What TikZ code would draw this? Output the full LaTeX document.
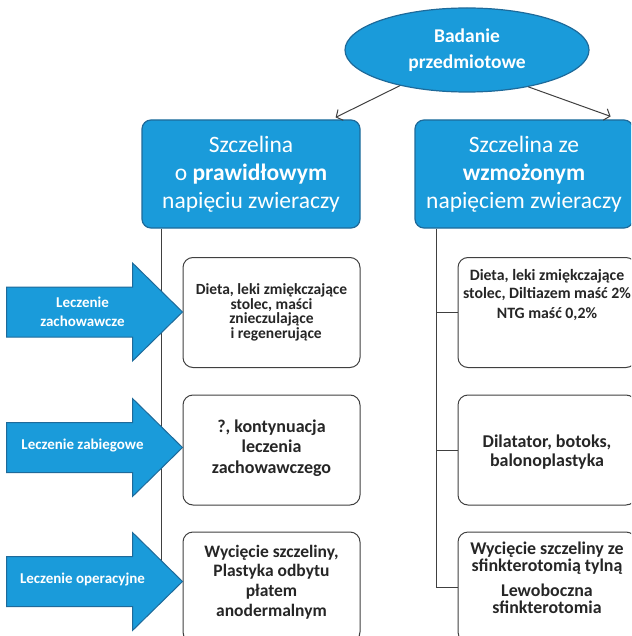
\documentclass[tikz,border=0pt]{standalone}
\usepackage{fontspec}
\setmainfont{Carlito}
\usetikzlibrary{shapes.geometric,arrows.meta,calc}
\definecolor{fillblue}{HTML}{1A9BDA}
\definecolor{edgeblue}{HTML}{1E6A9A}
\definecolor{linegray}{HTML}{404040}
\definecolor{textdark}{HTML}{262626}

\begin{document}
\begin{tikzpicture}[x=1pt,y=-1pt,
  bluebox/.style={draw=edgeblue, line width=1.2pt, fill=fillblue, rounded corners=9pt,
    text=white, align=center, inner sep=0pt, minimum width=218pt, minimum height=108pt,
    font=\fontsize{23.5}{28}\selectfont},
  wbox/.style={draw=linegray, line width=1pt, fill=white, rounded corners=10pt,
    inner sep=0pt, minimum width=177pt, minimum height=110pt},
  wtext/.style={text=textdark, align=center},
  conn/.style={draw=linegray, line width=1pt},
  arr/.style={conn, -{Straight Barb[length=5pt,width=12pt]}},
  lecz/.style={draw=edgeblue, line width=1pt, fill=fillblue},
  lecztext/.style={text=white, align=center, font=\bfseries\fontsize{15}{19}\selectfont},
]
\useasboundingbox (0,0) rectangle (631,636);
\clip (0,0) rectangle (631,636);

% top ellipse and the two headline boxes
\node[ellipse, draw=edgeblue, fill=fillblue, line width=1.2pt, minimum width=244pt,
  minimum height=84pt, inner sep=0pt, text=white, align=center,
  font=\bfseries\fontsize{19.5}{26}\selectfont] (E) at (467,50) {Badanie\\przedmiotowe};

\node[bluebox] (B1) at (251,174) {Szczelina\\o \textbf{prawidłowym}\\napięciu zwieraczy};
\node[bluebox] (B2) at (524,174) {Szczelina ze\\\textbf{wzmożonym}\\napięciem zwieraczy};

\draw[arr] (E.208) -- ($(B1.north east)+(-25,-2)$);
\draw[arr] (E.329) -- ($(B2.north east)+(-23,-3)$);

% treatment boxes, left column
\node[wbox] (L1) at (271.5,312.5) {};
\node[wtext, font=\bfseries\fontsize{15.5}{14.5}\selectfont] (L1t) at (L1)
  {Dieta, leki zmiękczające\\stolec, maści\\znieczulające\hspace*{0.5em}\\\hspace*{0.6em}i regenerujące};
\node[wbox] (L2) at (271.5,450) {};
\node[wtext, font=\bfseries\fontsize{18}{20.5}\selectfont] (L2t) at (271.5,448)
  {?, kontynuacja\\leczenia\\zachowawczego};
\node[wbox] (L3) at (271.5,587) {};
\node[wtext, font=\bfseries\fontsize{17.5}{19.7}\selectfont] (L3t) at (271.5,582)
  {Wycięcie szczeliny,\\Plastyka odbytu\\płatem\\anodermalnym};

% treatment boxes, right column
\node[wbox, minimum width=178pt] (R1) at (547,312.5) {};
\node[wtext, font=\bfseries\fontsize{15.8}{18}\selectfont] (R1t) at (547,295)
  {Dieta, leki zmiękczające\\stolec, Diltiazem maść 2\%\\[2pt]NTG maść 0,2\%};
\node[wbox, minimum width=178pt] (R2) at (547,450) {};
\node[wtext, font=\bfseries\fontsize{18}{19.5}\selectfont] (R2t) at (547,452)
  {Dilatator, botoks,\\balonoplastyka};
\node[wbox, minimum width=178pt] (R3) at (547,587) {};
\node[wtext, font=\bfseries\fontsize{17.9}{17}\selectfont] (R3t) at (547,578)
  {Wycięcie szczeliny ze\\sfinkterotomią tylną\\[8pt]Lewoboczna\\sfinkterotomia};

% arrow tips on the left boxes
\coordinate (tip1) at ($(L1.north west)+(0,55)$);
\coordinate (tip2) at ($(L2.north west)+(0,53)$);
\coordinate (tip3) at ($(L3.north west)+(0,50)$);

% trunk lines
\draw[conn] ($(B1.south west)+(20,0)$) |- (tip3);
\coordinate (trunk) at ($(B2.south west)+(22,0)$);
\draw[conn] (trunk) |- (R3.west);
\draw[conn] (trunk |- R1.west) -- (R1.west);
\draw[conn] (trunk |- R2.west) -- (R2.west);

% block arrows with their labels
\foreach \t in {tip1,tip2,tip3}
  \draw[lecz] (\t) -- ++(-50,-49) -- ++(0,24) -- ++(-126,0) -- ++(0,50)
    -- ++(126,0) -- ++(0,24) -- cycle;
\node[lecztext] (A1) at ($(tip1)+(-100,0)$) {Leczenie\\zachowawcze};
\node[lecztext] (A2) at ($(tip2)+(-100,-2)$) {Leczenie zabiegowe};
\node[lecztext] (A3) at ($(tip3)+(-100,-2)$) {Leczenie operacyjne};
\end{tikzpicture}
\end{document}
